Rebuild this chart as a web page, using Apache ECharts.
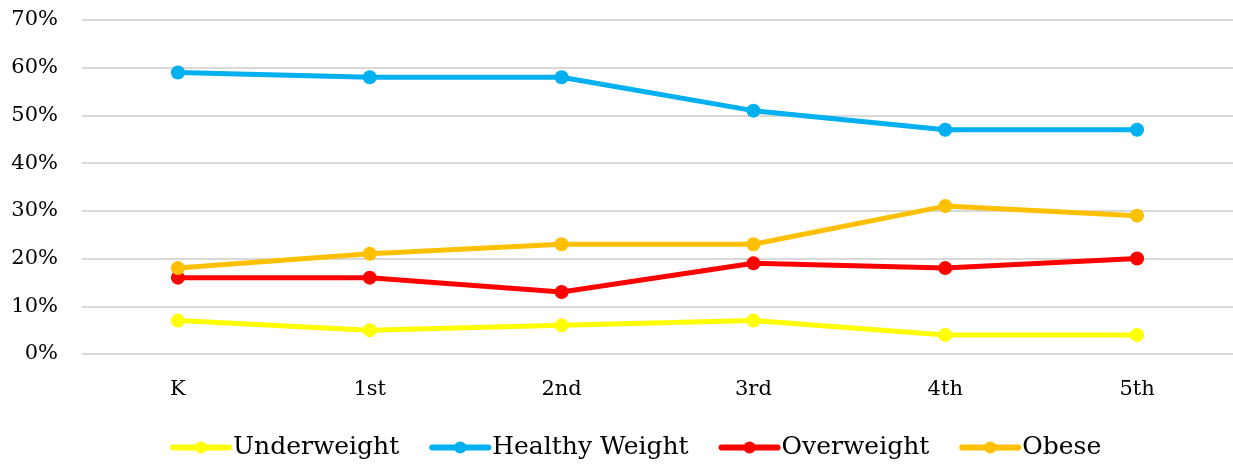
<!DOCTYPE html>
<html>
<head>
<meta charset="utf-8">
<style>
  html, body { margin: 0; padding: 0; background: #fff; }
  #chart { width: 1233px; height: 466px; }
</style>
<script src="https://cdn.jsdelivr.net/npm/echarts@6/dist/echarts.min.js"></script>
</head>
<body>
<div id="chart"></div>
<script>
// Grade levels along the x axis
const grades = ['K', '1st', '2nd', '3rd', '4th', '5th'];

// Share of students (percent) in each weight category by grade
const underweight = [7, 5, 6, 7, 4, 4];
const healthyWeight = [59, 58, 58, 51, 47, 47];
const overweight = [16, 16, 13, 19, 18, 20];
const obese = [18, 21, 23, 23, 31, 29];

// Y axis ticks (percent)
const yTicks = [0, 10, 20, 30, 40, 50, 60, 70];

const FONT = 'DejaVu Serif';

function lineSeries(name, data, color) {
  return {
    name: name,
    type: 'line',
    data: data,
    symbol: 'circle',
    symbolSize: 14,
    lineStyle: { width: 5, color: color },
    itemStyle: { color: color },
    emphasis: { disabled: true }
  };
}

const chart = echarts.init(document.getElementById('chart'), null, { renderer: 'canvas' });
chart.setOption({
  animation: false,
  textStyle: { fontFamily: FONT },
  grid: { left: 82, top: 20, width: 1152, height: 334, containLabel: false },
  xAxis: {
    type: 'category',
    data: grades,
    boundaryGap: true,
    axisLine: { show: false },
    axisTick: { show: false },
    axisLabel: { color: '#000', fontFamily: FONT, fontSize: 21, margin: 25 }
  },
  yAxis: {
    type: 'value',
    min: yTicks[0],
    max: yTicks[yTicks.length - 1],
    interval: 10,
    axisLine: { show: false },
    axisTick: { show: false },
    axisLabel: { color: '#000', fontFamily: FONT, fontSize: 21, margin: 24, formatter: '{value}%' },
    splitLine: { lineStyle: { color: '#d9d9d9', width: 2 } }
  },
  legend: {
    bottom: 1,
    left: 165,
    itemWidth: 56,
    itemHeight: 15,
    itemGap: 30,
    lineStyle: { width: 6, cap: 'round' },
    textStyle: { color: '#000', fontFamily: FONT, fontSize: 25, padding: [0, 0, 0, -1] },
    data: ['Underweight', 'Healthy Weight', 'Overweight', 'Obese']
  },
  series: [
    lineSeries('Underweight', underweight, '#FFFF00'),
    lineSeries('Healthy Weight', healthyWeight, '#00B0F0'),
    lineSeries('Overweight', overweight, '#FF0000'),
    lineSeries('Obese', obese, '#FFC000')
  ]
});
</script>
</body>
</html>
